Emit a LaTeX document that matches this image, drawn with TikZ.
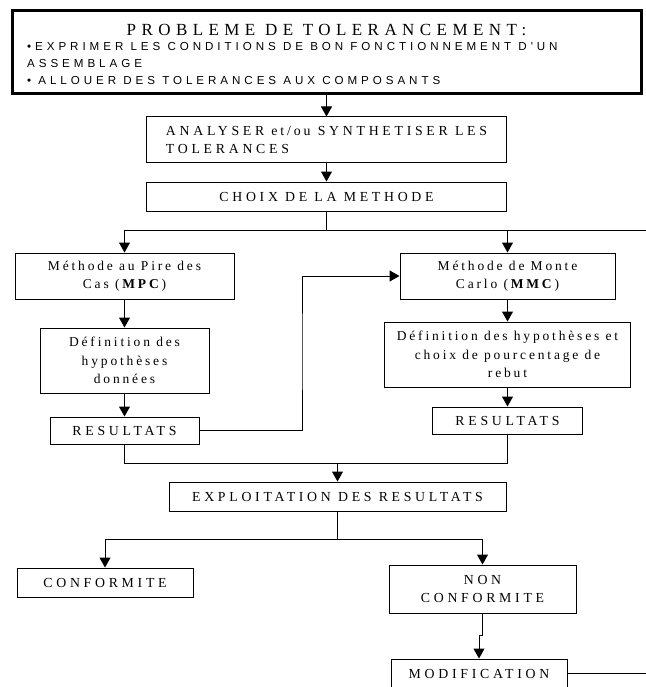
\documentclass[tikz,border=0pt]{standalone}
\usepackage{fontspec}
\setmainfont{Liberation Serif}
\newfontfamily\capsLS{Liberation Serif}[LetterSpace=27]
\newfontfamily\lowLS{Liberation Serif}[LetterSpace=21]
\newfontfamily\titleLS{Liberation Serif}[LetterSpace=32]
\newfontfamily\sansLS{Liberation Sans}[LetterSpace=34]
\usetikzlibrary{arrows.meta}
\begin{document}
\begin{tikzpicture}[x=1pt,y=-1pt,
  box/.style={draw, line width=1pt, rectangle, inner sep=0pt, align=center,
    font=\capsLS\fontsize{13.8}{18.5}\selectfont},
  lbox/.style={box, font=\lowLS\fontsize{13.5}{18.5}\selectfont},
  sline/.style={inner sep=0pt, anchor=west, font=\sansLS\fontsize{11.6}{14}\selectfont},
  arr/.style={-{Triangle[width=11pt,length=10pt]}, line width=1pt},
  ln/.style={line width=1pt},
]
\useasboundingbox (0,0) rectangle (645,687);

% top box
\node[draw, line width=3pt, minimum width=629pt, minimum height=83pt, inner sep=0pt] (top) at (326.5,52.5) {};
\node[inner sep=0pt, font=\titleLS\fontsize{17}{20}\selectfont] (title) at (326.5,29.5) {PROBLEME\ DE TOLERANCEMENT:};
\node[sline] (l1) at (27,47) {•EXPRIMER LES CONDITIONS DE BON FONCTIONNEMENT D'UN};
\node[sline] (l2) at (27,64) {ASSEMBLAGE};
\node[sline] (l3) at (27,81) {• ALLOUER DES TOLERANCES AUX COMPOSANTS};

\node[box, align=left, minimum width=360pt, minimum height=46pt] (ana) at (326.5,140) {ANALYSER {\lowLS et/ou} SYNTHETISER LES\\TOLERANCES};
\node[box, minimum width=360pt, minimum height=29pt] (choix) at (326.5,196.5) {CHOIX DE LA METHODE};
\coordinate (sp1) at (326.5,230);
\coordinate (spR) at (650,230);

\node[lbox, minimum width=219pt, minimum height=46pt] (mpc) at (124.5,276) {Méthode au Pire des\\Cas (\textbf{MPC})};
\node[lbox, minimum width=169pt, minimum height=65pt] (hypL) at (124.5,360.5) {Définition des\\hypothèses\\données};
\node[box, minimum width=149pt, minimum height=27pt] (resL) at (124.5,430.5) {RESULTATS};

\node[lbox, minimum width=215pt, minimum height=46pt] (mmc) at (507.5,276) {Méthode de Monte\\Carlo (\textbf{MMC})};
\node[lbox, minimum width=246pt, minimum height=65pt] (hypR) at (507.5,354.5) {Définition des hypothèses et\\choix de pourcentage de\\rebut};
\node[box, minimum width=150pt, minimum height=27pt] (resR) at (507.5,420.5) {RESULTATS};

\coordinate (loop) at (302,350);
\coordinate (join) at (337.5,463);
\node[box, minimum width=337pt, minimum height=29pt] (expl) at (337.5,496.5) {EXPLOITATION DES RESULTATS};
\coordinate (sp2) at (337.5,539);
\node[box, minimum width=176pt, minimum height=29pt] (conf) at (105,582.5) {CONFORMITE};
\node[box, minimum width=187pt, minimum height=48pt] (non) at (482.5,589) {NON\\CONFORMITE};
\coordinate (kink) at (482.5,635);
\node[box, minimum width=176pt, minimum height=29pt] (modif) at (479,673.5) {MODIFICATION};
\coordinate (modR) at (650,673.5);

% connectors
\draw[arr] (top.south) -- (ana.north);
\draw[arr] (ana.south) -- (choix.north);
\draw[ln] (choix.south) -- (sp1);
\draw[ln] (sp1) -- (spR);
\draw[arr] (sp1) -| (mpc.north);
\draw[arr] (sp1) -| (mmc.north);
\draw[arr] (mpc.south) -- (hypL.north);
\draw[arr] (hypL.south) -- (resL.north);
\draw[arr] (resL.east) -| (loop) |- (mmc.west);
\draw[arr] (mmc.south) -- (hypR.north);
\draw[arr] (hypR.south) -- (resR.north);
\draw[ln] (resL.south) |- (join);
\draw[ln] (resR.south) |- (join);
\draw[arr] (join) -- (expl.north);
\draw[ln] (expl.south) -- (sp2);
\draw[arr] (sp2) -| (conf.north);
\draw[arr] (sp2) -| (non.north);
\draw[arr] (non.south) -- (kink) -| (modif.north);
\draw[ln] (modif.east) -- (modR);
\end{tikzpicture}
\end{document}
